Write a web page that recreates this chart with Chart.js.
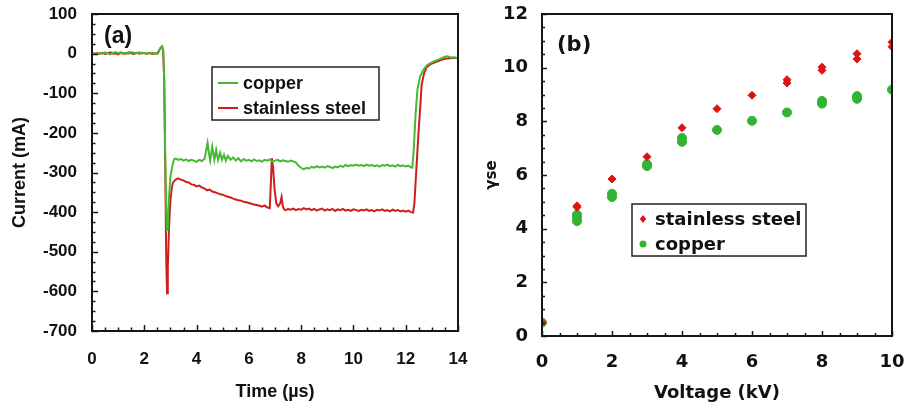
<!DOCTYPE html>
<html><head><meta charset="utf-8">
<script src="https://cdn.jsdelivr.net/npm/chart.js@4/dist/chart.umd.min.js"></script>
<style>
html,body{margin:0;padding:0;background:#fff;width:904px;height:409px;overflow:hidden}
canvas{position:absolute;top:0}
#ca{left:0}
#cb{left:460px}
</style></head><body>
<canvas id="ca" width="480" height="409"></canvas>
<canvas id="cb" width="444" height="409"></canvas>
<script>
// ---------- Panel (a): current vs time ----------
const timeCopper = [0,0.1,0.2,0.3,0.4,0.5,0.6,0.7,0.8,0.9,1.0,1.1,1.2,1.3,1.4,1.5,1.6,1.7,1.8,1.9,2.0,2.1,2.2,2.3,2.4,2.5,2.55,2.62,2.68,2.72,2.76,2.8,2.84,2.87,2.9,2.95,3.0,3.05,3.1,3.15,3.2,3.3,3.4,3.5,3.6,3.7,3.8,3.9,4.0,4.1,4.2,4.3,4.35,4.42,4.48,4.52,4.6,4.68,4.75,4.82,4.9,4.97,5.05,5.12,5.2,5.3,5.4,5.5,5.6,5.7,5.8,5.9,6.0,6.1,6.2,6.3,6.4,6.5,6.6,6.7,6.8,6.9,7.0,7.1,7.2,7.3,7.4,7.5,7.6,7.7,7.8,7.9,8.0,8.1,8.2,8.3,8.4,8.5,8.6,8.7,8.8,8.9,9.0,9.1,9.2,9.3,9.4,9.5,9.6,9.7,9.8,9.9,10.0,10.1,10.2,10.3,10.4,10.5,10.6,10.7,10.8,10.9,11.0,11.1,11.2,11.3,11.4,11.5,11.6,11.7,11.8,11.9,12.0,12.1,12.2,12.25,12.3,12.38,12.45,12.55,12.65,12.8,12.95,13.1,13.25,13.4,13.55,13.65,13.75,13.85,13.95,14.0];
const currentCopper = [0,1,-1,2,0,3,1,-2,2,4,1,3,-1,2,0,4,2,1,3,0,2,-1,1,2,0,2,6,15,18,10,-60,-250,-400,-445,-420,-360,-310,-292,-275,-266,-265,-268,-266,-270,-267,-271,-268,-270,-273,-268,-271,-266,-250,-225,-255,-270,-235,-268,-243,-268,-250,-268,-255,-270,-258,-268,-262,-270,-264,-272,-266,-270,-268,-272,-267,-271,-269,-273,-268,-270,-267,-272,-270,-268,-272,-269,-271,-273,-270,-272,-275,-283,-288,-292,-288,-290,-286,-288,-284,-287,-285,-288,-284,-286,-289,-285,-287,-283,-286,-281,-284,-281,-283,-280,-283,-281,-284,-280,-283,-281,-284,-282,-285,-281,-283,-280,-284,-282,-285,-281,-284,-282,-285,-283,-287,-288,-250,-150,-90,-58,-44,-30,-24,-19,-15,-11,-7,-8,-10,-9,-11,-10];

const timeSteel = [0,0.1,0.2,0.3,0.4,0.5,0.6,0.7,0.8,0.9,1.0,1.1,1.2,1.3,1.4,1.5,1.6,1.7,1.8,1.9,2.0,2.1,2.2,2.3,2.4,2.5,2.55,2.62,2.68,2.72,2.76,2.8,2.84,2.87,2.9,2.95,3.0,3.05,3.1,3.2,3.3,3.4,3.5,3.6,3.7,3.8,3.9,4.0,4.1,4.2,4.3,4.4,4.5,4.6,4.7,4.8,4.9,5.0,5.1,5.2,5.3,5.4,5.5,5.6,5.7,5.8,5.9,6.0,6.1,6.2,6.3,6.4,6.5,6.6,6.7,6.8,6.84,6.88,6.93,6.98,7.05,7.12,7.2,7.25,7.3,7.35,7.4,7.5,7.6,7.7,7.8,7.9,8.0,8.1,8.2,8.3,8.4,8.5,8.6,8.7,8.8,8.9,9.0,9.1,9.2,9.3,9.4,9.5,9.6,9.7,9.8,9.9,10.0,10.1,10.2,10.3,10.4,10.5,10.6,10.7,10.8,10.9,11.0,11.1,11.2,11.3,11.4,11.5,11.6,11.7,11.8,11.9,12.0,12.1,12.2,12.28,12.33,12.4,12.48,12.55,12.61,12.7,12.8,13.0,13.2,13.4,13.6,13.8,14.0];
const currentSteel = [0,-1,1,0,2,-1,1,3,0,1,-2,2,1,0,3,1,-1,2,0,2,1,0,2,-1,1,0,5,14,18,10,-60,-280,-520,-605,-540,-430,-370,-340,-325,-318,-315,-318,-320,-324,-325,-330,-331,-335,-333,-338,-340,-345,-343,-348,-350,-352,-355,-356,-359,-361,-363,-366,-368,-370,-371,-374,-375,-377,-379,-381,-382,-384,-386,-383,-388,-390,-330,-264,-290,-340,-378,-385,-378,-362,-385,-393,-395,-392,-394,-391,-395,-392,-394,-390,-393,-391,-395,-392,-396,-393,-391,-396,-393,-395,-392,-397,-393,-395,-392,-396,-394,-397,-393,-395,-397,-394,-396,-393,-397,-395,-398,-394,-396,-393,-397,-395,-398,-394,-397,-395,-398,-396,-399,-396,-400,-401,-380,-300,-210,-140,-78,-50,-34,-25,-20,-15,-12,-11,-11];

// ---------- Panel (b): gamma_se vs voltage ----------
const voltageSteel = [0,1,1,2,3,4,5,6,7,7,8,8,9,9,10,10];
const gammaSteel   = [0.5,4.85,4.8,5.85,6.68,7.76,8.47,8.97,9.55,9.43,10.02,9.9,10.52,10.32,10.95,10.78];
const voltageCopper = [0,1,1,1,2,2,3,3,4,4,5,6,7,8,8,9,9,10];
const gammaCopper   = [0.5,4.52,4.42,4.28,5.3,5.18,6.4,6.33,7.38,7.24,7.68,8.02,8.33,8.76,8.66,8.94,8.84,9.18];

const seriesLabels = ['copper', 'stainless steel'];
const GREEN_LINE = 'rgb(70,185,50)', RED_LINE = 'rgb(205,30,30)';
const GREEN_PT = 'rgb(50,180,50)', RED_PT = 'rgb(220,20,20)';

function pts(xs, ys){ return xs.map((x,i)=>({x:x, y:ys[i]})); }

const decor = {
  id: 'decor',
  afterDraw(chart, args, o) {
    const ctx = chart.ctx, a = chart.chartArea;
    const xs = chart.scales.x, ys = chart.scales.y;
    ctx.save();
    ctx.strokeStyle = '#161616';
    ctx.lineWidth = o.tickWidth;
    const isMajor = (v, step) => Math.abs(v/step - Math.round(v/step)) < 1e-6;
    for (let k = 0; ; k++) {
      const v = xs.min + k*o.xMinor;
      if (v > xs.max + 1e-9) break;
      const px = Math.round(xs.getPixelForValue(v)) + 0.5;
      const len = isMajor(v, o.xStep) ? o.majorLen : o.minorLen;
      ctx.beginPath(); ctx.moveTo(px, a.bottom); ctx.lineTo(px, a.bottom - len); ctx.stroke();
    }
    for (let k = 0; ; k++) {
      const v = ys.min + k*o.yMinor;
      if (v > ys.max + 1e-9) break;
      const py = Math.round(ys.getPixelForValue(v)) + 0.5;
      const len = isMajor(v - ys.min, o.yStep) ? o.majorLen : o.minorLen;
      ctx.beginPath(); ctx.moveTo(a.left, py); ctx.lineTo(a.left + len, py); ctx.stroke();
    }
    ctx.lineWidth = o.frameWidth;
    ctx.strokeRect(a.left, a.top, a.right - a.left, a.bottom - a.top);
    // panel label
    ctx.fillStyle = '#111';
    ctx.font = o.labelFont;
    ctx.textBaseline = 'middle'; ctx.textAlign = 'left';
    ctx.fillText(o.label, o.labelX, o.labelY);
    // legend
    const L = o.legend;
    ctx.lineWidth = 1.5; ctx.strokeStyle = '#222';
    ctx.strokeRect(L.x, L.y, L.w, L.h);
    ctx.font = L.font;
    L.order.forEach((di, i) => {
      const ds = chart.data.datasets[di];
      const y = L.rowY[i];
      if (L.kind === 'line') {
        ctx.strokeStyle = ds.borderColor; ctx.lineWidth = 2;
        ctx.beginPath(); ctx.moveTo(L.sx0, y); ctx.lineTo(L.sx1, y); ctx.stroke();
      } else {
        ctx.fillStyle = ds.backgroundColor;
        ctx.beginPath();
        if (ds.pointStyle === 'rectRot') {
          const r = 4;
          ctx.moveTo(L.mx, y - r); ctx.lineTo(L.mx + r*0.8, y); ctx.lineTo(L.mx, y + r); ctx.lineTo(L.mx - r*0.8, y); ctx.closePath();
        } else {
          ctx.arc(L.mx, y, 3.5, 0, Math.PI*2);
        }
        ctx.fill();
      }
      ctx.fillStyle = '#111';
      ctx.fillText(ds.label, L.textX, y + 1);
    });
    ctx.restore();
  }
};

const fontA = 'Liberation Sans, Arial, sans-serif';
const fontB = 'DejaVu Sans, Verdana, sans-serif';
function fixX(h){ return s => { s.height = h; s.paddingLeft = 0; s.paddingRight = 0; s.paddingTop = 0; s.paddingBottom = 0; }; }
function fixY(w){ return s => { s.width = w; s.paddingLeft = 0; s.paddingRight = 0; s.paddingTop = 0; s.paddingBottom = 0; }; }

new Chart(document.getElementById('ca'), {
  type: 'line',
  data: { datasets: [
    { label: seriesLabels[0], data: pts(timeCopper, currentCopper), borderColor: GREEN_LINE, borderWidth: 2, pointRadius: 0, tension: 0 },
    { label: seriesLabels[1], data: pts(timeSteel, currentSteel), borderColor: RED_LINE, borderWidth: 2, pointRadius: 0, tension: 0 }
  ]},
  options: {
    responsive: false, animation: false, events: [],
    layout: { padding: { top: 14, right: 22, left: 0, bottom: 0 } },
    plugins: {
      legend: { display: false }, tooltip: { enabled: false },
      decor: { xStep: 2, xMinor: 0.5, yStep: 100, yMinor: 25, majorLen: 6, minorLen: 3.5, tickWidth: 1.5, frameWidth: 2,
        label: '(a)', labelFont: 'bold 23px ' + fontA, labelX: 104, labelY: 37,
        legend: { kind: 'line', x: 212, y: 67, w: 167, h: 53, order: [0,1], rowY: [83, 108], sx0: 218, sx1: 238, textX: 243, font: 'bold 18px ' + fontA } }
    },
    scales: {
      x: { type: 'linear', min: 0, max: 14,
        ticks: { stepSize: 2, font: { family: fontA, size: 17, weight: 'bold' }, color: '#111', padding: 18, maxRotation: 0 },
        grid: { display: false, drawTicks: false }, border: { display: false },
        title: { display: true, text: 'Time (µs)', font: { family: fontA, size: 18, weight: 'bold' }, color: '#111', padding: { top: 0, bottom: 6 } },
        afterFit: fixX(78) },
      y: { type: 'linear', min: -700, max: 100,
        ticks: { stepSize: 100, font: { family: fontA, size: 17, weight: 'bold' }, color: '#111', padding: 15 },
        grid: { display: false, drawTicks: false }, border: { display: false },
        title: { display: true, text: 'Current (mA)', font: { family: fontA, size: 18, weight: 'bold' }, color: '#111', padding: { top: 9, bottom: 0 } },
        afterFit: fixY(92) }
    }
  },
  plugins: [decor]
});

new Chart(document.getElementById('cb'), {
  type: 'scatter',
  data: { datasets: [
    { label: seriesLabels[1], data: pts(voltageSteel, gammaSteel), pointStyle: 'rectRot', pointRadius: 4, backgroundColor: RED_PT, borderColor: RED_PT, borderWidth: 1 },
    { label: seriesLabels[0], data: pts(voltageCopper, gammaCopper), pointStyle: 'circle', pointRadius: 4.5, backgroundColor: GREEN_PT, borderColor: GREEN_PT, borderWidth: 1 }
  ]},
  options: {
    responsive: false, animation: false, events: [],
    layout: { padding: { top: 14, right: 12, left: 0, bottom: 0 } },
    plugins: {
      legend: { display: false }, tooltip: { enabled: false },
      decor: { xStep: 2, xMinor: 0.5, yStep: 2, yMinor: 0.5, majorLen: 5, minorLen: 3, tickWidth: 1.5, frameWidth: 2,
        label: '(b)', labelFont: 'bold 21px ' + fontB, labelX: 97, labelY: 46,
        legend: { kind: 'point', x: 172, y: 204, w: 174, h: 52, order: [0,1], rowY: [219, 244], mx: 183, textX: 195, font: 'bold 18px ' + fontB } }
    },
    scales: {
      x: { type: 'linear', min: 0, max: 10,
        ticks: { stepSize: 2, font: { family: fontB, size: 18, weight: 'bold' }, color: '#111', padding: 16, maxRotation: 0 },
        grid: { display: false, drawTicks: false }, border: { display: false },
        title: { display: true, text: 'Voltage (kV)', font: { family: fontB, size: 18, weight: 'bold' }, color: '#111', padding: { top: 0, bottom: 5 } },
        afterFit: fixX(73) },
      y: { type: 'linear', min: 0, max: 12,
        ticks: { stepSize: 2, font: { family: fontB, size: 18, weight: 'bold' }, color: '#111', padding: 14 },
        grid: { display: false, drawTicks: false }, border: { display: false },
        title: { display: true, text: 'γse', font: { family: fontB, size: 15, weight: 'bold' }, color: '#111', padding: { top: 23, bottom: 0 } },
        afterFit: fixY(82) }
    }
  },
  plugins: [decor]
});
</script>
</body></html>
